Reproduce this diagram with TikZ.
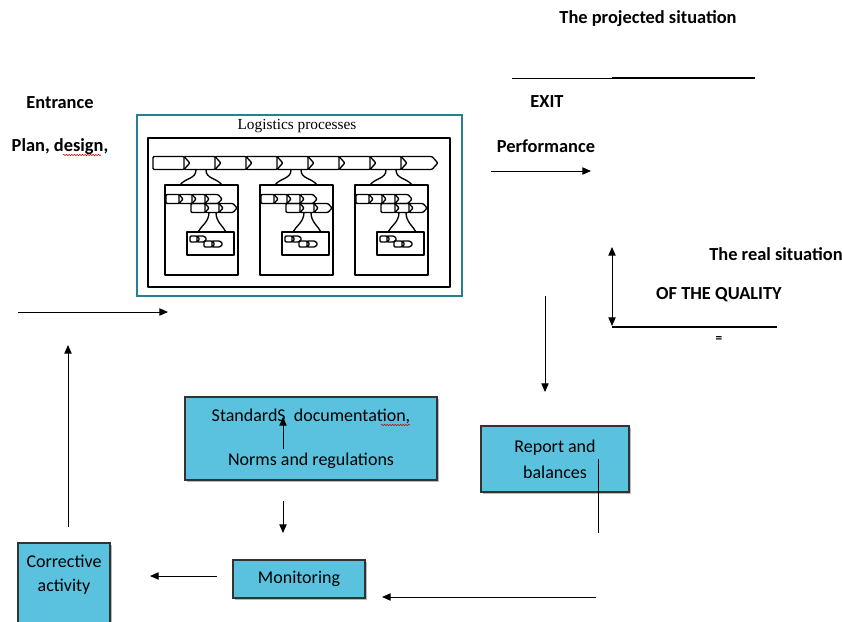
\documentclass[tikz,border=0pt]{standalone}
\usepackage{fontspec}
\setmainfont{Carlito}
\newfontfamily\procfont{Liberation Serif}
\usetikzlibrary{arrows.meta,shadows,decorations.pathmorphing}

\definecolor{qblue}{RGB}{90,194,222}
\definecolor{frameteal}{RGB}{38,128,146}

\tikzset{
  lbl/.style={font=\fontsize{13.8}{16}\selectfont\bfseries, inner sep=0pt},
  qbox/.style={draw=black!80, fill=qblue, line width=0.9pt, align=center,
    font=\fontsize{13.5}{16}\selectfont, inner sep=0pt,
    drop shadow={shadow xshift=1.5pt, shadow yshift=-1.5pt, opacity=0.55}},
  arr/.style={-{Triangle[length=6.5pt,width=5.5pt]}, line width=0.7pt},
  proc/.style={draw, line width=1pt, line join=round},
  squig/.style={red!80!black, line width=0.4pt, decorate,
    decoration={snake, amplitude=0.5pt, segment length=2pt}}
}

% row of process chevrons: x, y, count, step, half height
\newcommand{\chevrow}[5]{%
  \foreach \k in {1,...,#3}{
    \draw[proc, rounded corners=0.8pt] ({#1+(\k-1)*#4},{#2-#5}) -- ({#1+\k*#4},{#2-#5})
      -- ({#1+\k*#4+0.9*#5},#2) -- ({#1+\k*#4},{#2+#5})
      -- ({#1+(\k-1)*#4},{#2+#5}) -- cycle;
  }%
}

\begin{document}
\begin{tikzpicture}[x=0.75pt, y=-0.75pt]
  \useasboundingbox (0,0) rectangle (842,621);

  % top right: the projected situation
  \node[lbl] (proj) at (648,19) {The projected situation};
  \coordinate (pa) at (512,78);
  \coordinate (pb) at (612,78);
  \coordinate (pc) at (755,78);
  \draw[line width=0.6pt] (pa) -- (pb);
  \draw[line width=1.4pt] (pb) -- (pc);
  \node[lbl] (exit) at (547,102) {EXIT};
  \node[lbl] (perf) at (546,146) {Performance};
  \coordinate (perfa) at (491,171);
  \coordinate (perfb) at (591,171);
  \draw[arr] (perfa) -- (perfb);

  % left: entrance
  \node[lbl] (entr) at (60,103) {Entrance};
  \node[lbl] (plan) at (60,147) {Plan, design,};
  \draw[squig] (63,155) -- (101,155);
  \coordinate (ina) at (18,312);
  \coordinate (inb) at (168,312);
  \draw[arr] (ina) -- (inb);

  % logistics processes
  \draw[draw=frameteal, line width=1.2pt] (137,115) rectangle (462,296);
  \node[font=\procfont\fontsize{11.5}{13}\selectfont, inner sep=0pt] (logi) at (297,126) {Logistics processes};
  \draw[proc] (148,138) rectangle (450,287);
  \chevrow{153}{163}{9}{31}{6.5}
  \foreach \sx in {165,260,355}{
    \draw[proc] (\sx,185) rectangle ++(73,90);
    \draw[proc] (\sx+31,170) .. controls (\sx+31,179) and (\sx+20,178) .. (\sx+15,185);
    \draw[proc] (\sx+41,170) .. controls (\sx+41,179) and (\sx+52,178) .. (\sx+57,185);
    \chevrow{\sx+1}{199}{4}{13}{4.5}
    \chevrow{\sx+26}{208}{3}{14}{4.5}
    \draw[proc] (\sx+44,212.5) .. controls (\sx+44,222) and (\sx+36,226) .. (\sx+33,232);
    \draw[proc] (\sx+51,212.5) .. controls (\sx+51,222) and (\sx+58,226) .. (\sx+61,232);
    \draw[proc] (\sx+22,232) rectangle (\sx+69,255);
    \chevrow{\sx+25}{239}{2}{7}{3}
    \chevrow{\sx+39}{244}{2}{8}{3}
  }

  % bottom right: the real situation
  \node[lbl] (real) at (776,254) {The real situation};
  \node[lbl] (qual) at (719,295) {OF THE QUALITY};
  \coordinate (qa) at (612,247);
  \coordinate (qb) at (612,326);
  \coordinate (qc) at (777,327);
  \draw[{Triangle[length=6.5pt,width=5.5pt]}-{Triangle[length=6.5pt,width=5.5pt]}, line width=0.7pt] (qa) -- (qb);
  \draw[line width=1.4pt] (612,327) -- (qc);
  \node[font=\fontsize{10}{12}\selectfont\bfseries, inner sep=0pt] (eq) at (719,340) {=};

  % quality loop
  \node[qbox, minimum width=189pt, minimum height=62.25pt] (std) at (311,438.5)
    {StandardS\ \ documentation,\\[17pt]Norms and regulations};
  \draw[squig] (381,425) -- (410,425);
  \coordinate (stda) at (283,449);
  \coordinate (stdb) at (283,417);
  \draw[arr] (stda) -- (stdb);

  \node[qbox, minimum width=111pt, minimum height=49.5pt] (rep) at (555,459)
    {Report and\\[3.5pt]balances};
  \coordinate (repa) at (598,533);
  \coordinate (repb) at (598,459);
  \draw[line width=0.6pt] (repa) -- (repb);

  \node[qbox, minimum width=99pt, minimum height=28.5pt] (mon) at (299,579) {Monitoring};
  \node[qbox, minimum width=69pt, minimum height=61.5pt] (corr) at (64,584) {};
  \node[font=\fontsize{13.5}{16}\selectfont, align=center, inner sep=0pt] (corrtxt) at (64,575)
    {Corrective\\[2pt]activity};

  \coordinate (downa) at (545,296);
  \coordinate (downb) at (545,392);
  \draw[arr] (downa) -- (downb);
  \coordinate (sma) at (283,501);
  \coordinate (smb) at (283,533);
  \draw[arr] (sma) -- (smb);
  \coordinate (mca) at (217,576);
  \coordinate (mcb) at (150,576);
  \draw[arr] (mca) -- (mcb);
  \coordinate (bota) at (596,597);
  \coordinate (botb) at (382,597);
  \draw[arr] (bota) -- (botb);
  \coordinate (upa) at (68,527);
  \coordinate (upb) at (68,345);
  \draw[arr] (upa) -- (upb);
\end{tikzpicture}
\end{document}
